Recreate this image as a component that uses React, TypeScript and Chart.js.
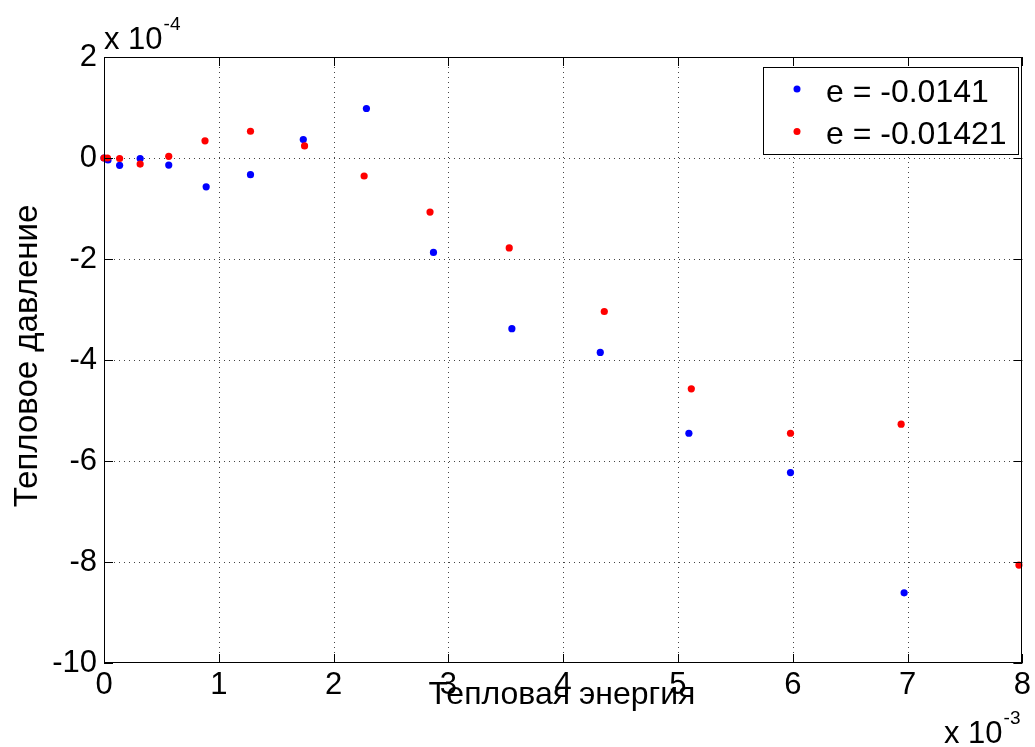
import React, { useEffect, useRef } from "react";
import { Chart, registerables } from "chart.js";

Chart.register(...registerables);

// Thermal energy (x 10^-3) and thermal pressure (x 10^-4)
const energyBlue = [0, 0.035, 0.136, 0.315, 0.564, 0.89, 1.276, 1.736, 2.286, 2.87, 3.553, 4.323, 5.095, 5.98, 6.97];
const pressureBlue = [0, -0.04, -0.145, -0.01, -0.14, -0.57, -0.33, 0.364, 0.98, -1.87, -3.38, -3.85, -5.45, -6.23, -8.61];
const energyRed = [0, 0.03, 0.136, 0.315, 0.564, 0.88, 1.276, 1.747, 2.266, 2.84, 3.53, 4.358, 5.116, 5.98, 6.944, 7.97];
const pressureRed = [0, 0.0, -0.01, -0.12, 0.034, 0.34, 0.53, 0.24, -0.356, -1.07, -1.78, -3.04, -4.57, -5.45, -5.27, -8.06];

const labelBlue = "e = -0.0141";
const labelRed = "e = -0.01421";
const xTitle = "Тепловая энергия";
const yTitle = "Тепловое давление";
const xTickValues = [0, 1, 2, 3, 4, 5, 6, 7, 8];
const yTickValues = [2, 0, -2, -4, -6, -8, -10];
const xExponent = "-3";
const yExponent = "-4";

const FONT = '"Liberation Sans", Arial, Helvetica, sans-serif';
const FS = 31;
const FS_TEXT = 32;

const matlabPlugin = {
  id: "matlabDecor",
  beforeDatasetsDraw(chart: any) {
    const { ctx, chartArea: a, scales } = chart;
    const x = scales.x;
    const y = scales.y;
    ctx.save();
    ctx.strokeStyle = "#444";
    ctx.lineWidth = 1;
    ctx.setLineDash([1, 4]);
    ctx.beginPath();
    xTickValues.forEach((v) => {
      const px = Math.round(x.getPixelForValue(v)) + 0.5;
      if (px <= a.left + 1 || px >= a.right - 1) return;
      ctx.moveTo(px, a.top);
      ctx.lineTo(px, a.bottom);
    });
    yTickValues.forEach((v) => {
      const py = Math.round(y.getPixelForValue(v)) + 0.5;
      if (py <= a.top + 1 || py >= a.bottom - 1) return;
      ctx.moveTo(a.left, py);
      ctx.lineTo(a.right, py);
    });
    ctx.stroke();
    ctx.restore();
  },
  afterDraw(chart: any) {
    const { ctx, chartArea: a, scales } = chart;
    const x = scales.x;
    const y = scales.y;
    ctx.save();
    // box
    ctx.strokeStyle = "#000";
    ctx.lineWidth = 1;
    ctx.setLineDash([]);
    ctx.strokeRect(Math.round(a.left) + 0.5, Math.round(a.top) + 0.5, Math.round(a.right - a.left) - 1, Math.round(a.bottom - a.top) - 1);
    // inward ticks
    const TL = 9;
    ctx.beginPath();
    xTickValues.forEach((v) => {
      const px = Math.round(x.getPixelForValue(v)) + 0.5;
      ctx.moveTo(px, a.bottom);
      ctx.lineTo(px, a.bottom - TL);
      ctx.moveTo(px, a.top);
      ctx.lineTo(px, a.top + TL);
    });
    yTickValues.forEach((v) => {
      const py = Math.round(y.getPixelForValue(v)) + 0.5;
      ctx.moveTo(a.left, py);
      ctx.lineTo(a.left + TL, py);
      ctx.moveTo(a.right, py);
      ctx.lineTo(a.right - TL, py);
    });
    ctx.stroke();

    ctx.fillStyle = "#000";
    // exponent labels
    const drawExp = (left: number, base: number, exp: string) => {
      ctx.font = `${FS}px ${FONT}`;
      ctx.textAlign = "left";
      ctx.textBaseline = "alphabetic";
      const main = "x 10";
      ctx.fillText(main, left, base);
      const w = ctx.measureText(main).width;
      ctx.font = `19px ${FONT}`;
      ctx.fillText(exp, left + w + 1, base - 19);
    };
    drawExp(a.left, 49, yExponent);
    drawExp(944, 743, xExponent);

    // axis titles
    ctx.font = `${FS_TEXT}px ${FONT}`;
    ctx.textAlign = "center";
    ctx.textBaseline = "alphabetic";
    ctx.fillText(xTitle, 562, 704);
    ctx.save();
    ctx.font = `33px ${FONT}`;
    ctx.translate(37, 356);
    ctx.rotate(-Math.PI / 2);
    ctx.fillText(yTitle, 0, 0);
    ctx.restore();

    // legend
    const lx = 763, ly = 67, lw = 255, lh = 87;
    ctx.fillStyle = "#fff";
    ctx.fillRect(lx, ly, lw, lh);
    ctx.strokeStyle = "#000";
    ctx.strokeRect(lx + 0.5, ly + 0.5, lw, lh);
    const rows = chart.data.datasets
      .slice()
      .sort((p: any, q: any) => p.legendIndex - q.legendIndex);
    rows.forEach((ds: any, i: number) => {
      const cy = 89 + i * 42.5;
      ctx.fillStyle = ds.backgroundColor;
      ctx.beginPath();
      ctx.arc(797, cy, 3.5, 0, Math.PI * 2);
      ctx.fill();
      ctx.fillStyle = "#000";
      ctx.font = `${FS_TEXT}px ${FONT}`;
      ctx.textAlign = "left";
      ctx.textBaseline = "alphabetic";
      ctx.fillText(ds.label, 826, cy + 12.5);
    });
    ctx.restore();
  },
};

export default function App() {
  const canvasRef = useRef<HTMLCanvasElement | null>(null);

  useEffect(() => {
    document.body.style.margin = "0";
    const canvas = canvasRef.current;
    if (!canvas) return;
    const chart = new Chart(canvas, {
      type: "scatter",
      data: {
        datasets: [
          {
            label: labelBlue,
            legendIndex: 0,
            data: energyBlue.map((e, i) => ({ x: e, y: pressureBlue[i] })),
            backgroundColor: "#0000ff",
            borderColor: "#0000ff",
            pointRadius: 3.6,
            pointHoverRadius: 3.6,
            borderWidth: 0,
            order: 2,
            clip: false,
          } as any,
          {
            label: labelRed,
            legendIndex: 1,
            data: energyRed.map((e, i) => ({ x: e, y: pressureRed[i] })),
            backgroundColor: "#ff0000",
            borderColor: "#ff0000",
            pointRadius: 3.6,
            pointHoverRadius: 3.6,
            borderWidth: 0,
            order: 1,
            clip: false,
          } as any,
        ],
      },
      options: {
        animation: false,
        responsive: false,
        devicePixelRatio: 1,
        events: [],
        layout: { padding: { top: 57, right: 10, left: 0, bottom: 0 } },
        plugins: {
          legend: { display: false },
          tooltip: { enabled: false },
          title: { display: false },
        },
        scales: {
          x: {
            type: "linear",
            min: 0,
            max: 8,
            grid: { display: false, drawTicks: false },
            border: { display: false },
            afterFit: (s: any) => {
              s.height = 84;
            },
            afterBuildTicks: (s: any) => {
              s.ticks = xTickValues.map((v) => ({ value: v }));
            },
            ticks: {
              autoSkip: false,
              maxRotation: 0,
              padding: 4,
              color: "#000",
              font: { family: FONT, size: FS },
              callback: (v: any) => String(v),
            },
          },
          y: {
            type: "linear",
            min: -10,
            max: 2,
            grid: { display: false, drawTicks: false },
            border: { display: false },
            afterFit: (s: any) => {
              s.width = 104;
            },
            afterBuildTicks: (s: any) => {
              s.ticks = yTickValues.map((v) => ({ value: v }));
            },
            ticks: {
              autoSkip: false,
              padding: 7,
              color: "#000",
              font: { family: FONT, size: FS },
              callback: (v: any) => String(v),
            },
          },
        },
      } as any,
      plugins: [matlabPlugin],
    });
    return () => chart.destroy();
  }, []);

  return (
    <div style={{ width: 1035, height: 747, background: "#fff" }}>
      <canvas ref={canvasRef} width={1035} height={747} style={{ display: "block" }} />
    </div>
  );
}
